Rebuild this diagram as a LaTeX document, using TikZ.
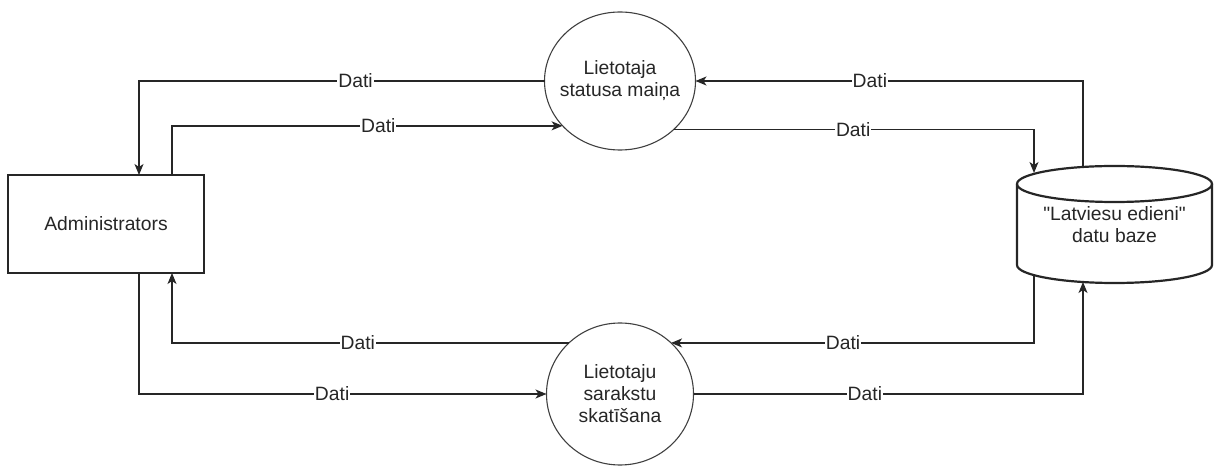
\documentclass[tikz,border=0pt]{standalone}
\usepackage{fontspec}
\setmainfont{Liberation Sans}
\newfontfamily\plainquotes{Liberation Sans}[Ligatures=ResetAll]
\usetikzlibrary{arrows.meta,shapes.geometric}
\begin{document}
\begin{tikzpicture}[x=1pt,y=1pt,
  txt/.style={font=\fontsize{19.3}{22}\selectfont, text=black!85},
  flow/.style={line width=1.4pt, draw=black!85, -{Stealth[length=11pt,width=9pt,inset=3pt]}},
  lbl/.style={txt, fill=white, inner sep=1pt},
  proc/.style={ellipse, draw=black!75, line width=1.1pt, inner sep=0pt, outer sep=0pt},
  entity/.style={rectangle, draw=black!85, line width=1.3pt, minimum width=196pt, minimum height=98pt, outer sep=0pt, txt},
  dbline/.style={line width=2.2pt, draw=black!85}
]
\useasboundingbox (0,0) rectangle (1219,466);

% nodes
\node[entity] (admin) at (106,242) {Administrators};
\node[proc, minimum width=151pt, minimum height=138pt,
      label={[txt,align=center]center:Lietotaja\\statusa maiņa}] (c1) at (620,385) {};
\node[proc, minimum width=147pt, minimum height=142pt,
      label={[txt,align=center]center:Lietotaju\\sarakstu\\skatīšana}] (c2) at (620,72) {};

% data store (cylinder)
\draw[dbline] (1017,282) -- (1017,201) arc[start angle=180,end angle=360,x radius=97.5,y radius=18] -- (1212,282);
\draw[dbline] (1114.5,282) ellipse[x radius=97.5,y radius=18];
\node[txt, align=center, minimum width=195pt, minimum height=117pt] (db) at (1114.5,241.5) {\plainquotes "Latviesu edieni"\\datu baze};

\coordinate (dbA) at (1083,300);
\coordinate (dbB) at (1034,293);
\coordinate (dbC) at (1034,191);
\coordinate (dbD) at (1083,184);

% connectors
\draw[flow] (c1.west) -| node[lbl,pos=0.233]{Dati} ([xshift=33pt]admin.north);
\draw[flow] ([xshift=66pt]admin.north) |- node[lbl,pos=0.764]{Dati} (c1.218);
\draw[flow] (dbA) |- node[lbl,pos=0.775]{Dati} (c1.east);
\draw[flow] (c1.318) -| node[lbl,pos=0.249]{Dati} (dbB);

\draw[flow] (c2.135) -| node[lbl,pos=0.266]{Dati} ([xshift=66pt]admin.south);
\draw[flow] ([xshift=33pt]admin.south) |- node[lbl,pos=0.737]{Dati} (c2.west);
\draw[flow] (dbC) |- node[lbl,pos=0.763]{Dati} (c2.45);
\draw[flow] (c2.east) -| node[lbl,pos=0.22]{Dati} (dbD);
\end{tikzpicture}
\end{document}
